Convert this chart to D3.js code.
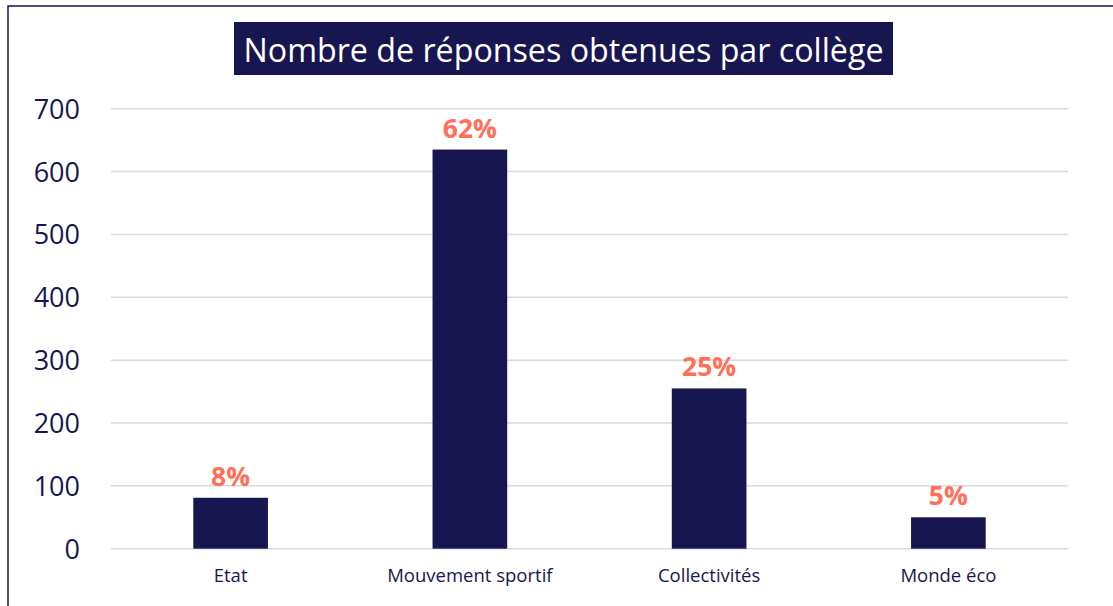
<!DOCTYPE html>
<html>
<head>
<meta charset="utf-8">
<script src="https://cdn.jsdelivr.net/npm/d3@7"></script>
<style>
  body { margin: 0; background: #fff; }
  svg { display: block; }
</style>
</head>
<body>
<div id="chart"></div>
<script>
// Data
const categories = ["Etat", "Mouvement sportif", "Collectivités", "Monde éco"];
const responses = [81, 635, 255, 50];
const shareLabels = ["8%", "62%", "25%", "5%"];
const yTicks = [0, 100, 200, 300, 400, 500, 600, 700];
const chartTitle = "Nombre de réponses obtenues par collège";

const navy = "#181650";
const coral = "#ff6f59";

const width = 1113;
const height = 606;
const plot = { left: 111, right: 1068, top: 108.7, bottom: 548.7 };

const svg = d3.select("#chart")
    .append("svg")
    .attr("width", width)
    .attr("height", height);

// Outer frame (cut off by the window on right / bottom)
svg.append("rect")
    .attr("x", 8)
    .attr("y", 6)
    .attr("width", width + 20)
    .attr("height", height + 20)
    .attr("fill", "none")
    .attr("stroke", navy)
    .attr("stroke-width", 1.5);

// Scales
const x = d3.scaleBand()
    .domain(categories)
    .range([plot.left, plot.right])
    .paddingInner(0.688)
    .paddingOuter(0.344);

const y = d3.scaleLinear()
    .domain([0, 700])
    .range([plot.bottom, plot.top]);

// Gridlines
svg.append("g")
    .selectAll("line")
    .data(yTicks)
    .enter()
    .append("line")
    .attr("x1", plot.left)
    .attr("x2", plot.right)
    .attr("y1", d => y(d))
    .attr("y2", d => y(d))
    .attr("stroke", "#d9d9d9")
    .attr("stroke-width", 1.5);

// Y axis labels
const yAxis = d3.axisLeft(y)
    .tickValues(yTicks)
    .tickSize(0)
    .tickPadding(0);

svg.append("g")
    .attr("transform", "translate(80,0)")
    .call(yAxis)
    .call(g => g.select(".domain").remove())
    .selectAll("text")
    .attr("fill", navy)
    .attr("dy", "0.35em")
    .style("font-family", "'Open Sans', sans-serif")
    .style("font-size", "27px");

// X axis labels
const xAxis = d3.axisBottom(x)
    .tickSize(0)
    .tickPadding(0);

svg.append("g")
    .attr("transform", `translate(0,${plot.bottom + 20})`)
    .call(xAxis)
    .call(g => g.select(".domain").remove())
    .selectAll("text")
    .attr("fill", navy)
    .attr("dy", "0.71em")
    .style("font-family", "'Open Sans', sans-serif")
    .style("font-size", "18.5px");

// Bars
svg.append("g")
    .selectAll("rect")
    .data(responses)
    .enter()
    .append("rect")
    .attr("x", (d, i) => x(categories[i]))
    .attr("y", d => y(d))
    .attr("width", x.bandwidth())
    .attr("height", d => y(0) - y(d))
    .attr("fill", navy);

// Percentage labels
svg.append("g")
    .selectAll("text")
    .data(responses)
    .enter()
    .append("text")
    .attr("x", (d, i) => x(categories[i]) + x.bandwidth() / 2)
    .attr("y", d => y(d) - 12)
    .attr("text-anchor", "middle")
    .attr("fill", coral)
    .style("font-family", "'Open Sans', sans-serif")
    .style("font-size", "26.5px")
    .style("font-weight", "bold")
    .text((d, i) => shareLabels[i]);

// Title box
svg.append("rect")
    .attr("x", 234)
    .attr("y", 22)
    .attr("width", 659)
    .attr("height", 53)
    .attr("fill", navy);

svg.append("text")
    .attr("x", 563.5)
    .attr("y", 62)
    .attr("text-anchor", "middle")
    .attr("fill", "#fff")
    .attr("textLength", 640)
    .attr("lengthAdjust", "spacingAndGlyphs")
    .style("font-family", "'Open Sans', sans-serif")
    .style("font-size", "32px")
    .text(chartTitle);
</script>
</body>
</html>
